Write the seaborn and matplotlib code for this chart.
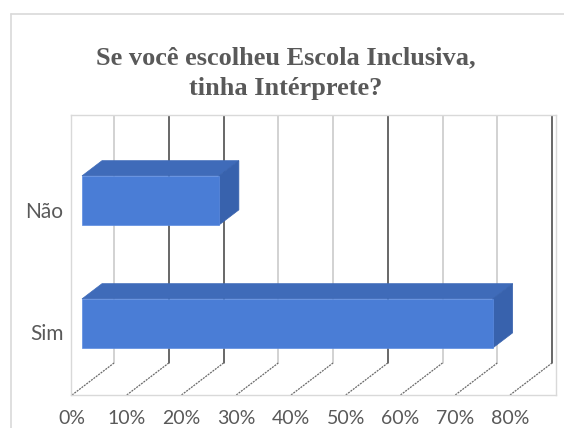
import numpy as np
import pandas as pd
import matplotlib
matplotlib.use("Agg")
import matplotlib.pyplot as plt
from matplotlib.patches import Polygon
from matplotlib.lines import Line2D
import seaborn as sns

# ---- data ----
categories = ["Não", "Sim"]
values = [25, 75]                      # percent
tick_values = [0, 10, 20, 30, 40, 50, 60, 70, 80]
tick_labels = ["0%", "10%", "20%", "30%", "40%", "50%", "60%", "70%", "80%"]
title = "Se você escolheu Escola Inclusiva,\ntinha Intérprete?"

# ---- style ----
sns.set_theme(style="white")
plt.rcParams['font.family'] = ['Lato', 'DejaVu Sans']

W, H, DPI = 564, 428, 100
fig = plt.figure(figsize=(W / DPI, H / DPI), dpi=DPI)
ax = fig.add_axes([71 / W, 1 - 395 / H, (556 - 71) / W, (395 - 115) / H])

front_c = "#4a7dd6"
top_c = "#3f6bb9"
side_c = "#3862ad"
text_c = "#595959"

df = pd.DataFrame({"cat": categories, "val": values})
sns.barplot(data=df, x="val", y="cat", orient="h", width=0.4, color=front_c,
            saturation=1, ax=ax, zorder=3, edgecolor="#5b8be0", linewidth=0.5)

# pixel-like scale of the oblique projection
PX_X = 5.475          # px per percent
PX_Y = 123.0          # px per category unit
SLOPE = 32.0 / 42.0   # dy/dx of depth direction


def proj(p, y, d):
    """shift a point by depth d (in px along x) in the oblique view"""
    return (p + d / PX_X, y - d * SLOPE / PX_Y)


ax.set_xlim((71 - 82) / PX_X, (556 - 82) / PX_X)
y_top = (115 - 200.5) / PX_Y
y_bot = (395 - 323.5) / PX_Y + 1
ax.set_ylim(y_bot, y_top)

# floor level at bar front plane
y_floor = y_bot + (-10) * SLOPE / PX_Y

dark_idx = {1, 2, 5, 8}
for i, t in enumerate(tick_values):
    # back-wall gridline
    bx, by = proj(t, y_floor, 32)
    col = "#3f3f3f" if i in dark_idx else "#c6c6c6"
    ax.plot([bx, bx], [by, y_top], color=col, lw=1.1, zorder=1)
    # floor line
    fx, fy = proj(t, y_floor, -10)
    ax.plot([fx, bx], [fy, by], color="#6a6a6a", lw=0.9, zorder=1,
            dashes=(1.6, 0.8))

# 3D faces of bars
for patch in ax.patches[:len(values)]:
    x0 = patch.get_x()
    x1 = x0 + patch.get_width()
    ya = patch.get_y()
    yb = ya + patch.get_height()
    ytop_ = min(ya, yb)
    ybot_ = max(ya, yb)
    depth = 20
    top = [(x0, ytop_), (x1, ytop_), proj(x1, ytop_, depth), proj(x0, ytop_, depth)]
    side = [(x1, ytop_), (x1, ybot_), proj(x1, ybot_, depth), proj(x1, ytop_, depth)]
    ax.add_patch(Polygon(top, closed=True, facecolor=top_c, edgecolor=top_c,
                         lw=0.5, zorder=2.9))
    ax.add_patch(Polygon(side, closed=True, facecolor=side_c, edgecolor=side_c,
                         lw=0.5, zorder=2.9))

# ticks
front_shift = -10 / PX_X
ax.set_xticks([t + front_shift for t in tick_values], tick_labels)
cat_shift = 9.0 / PX_Y
ax.set_yticks([i + cat_shift for i in range(len(categories))], categories)
ax.tick_params(axis="x", length=0, pad=10.5, labelsize=14, labelcolor=text_c)
ax.tick_params(axis="y", length=0, pad=5.5, labelsize=15, labelcolor=text_c)
ax.set_xlabel("")
ax.set_ylabel("")
ax.grid(False)
for s in ax.spines.values():
    s.set_color("#d9d9d9")
    s.set_linewidth(1.0)

# title
fig.text(286 / W, 1 - 73 / H, title, ha="center", va="center",
         fontsize=19, fontweight="bold", color=text_c,
         family=["Liberation Serif", "DejaVu Serif"], linespacing=1.4)

# chart border
fig.add_artist(Line2D([11 / W, 11 / W], [0, 1 - 14 / H], color="#d9d9d9", lw=1.2,
                      transform=fig.transFigure))
fig.add_artist(Line2D([11 / W, 1], [1 - 14 / H, 1 - 14 / H], color="#d9d9d9", lw=1.2,
                      transform=fig.transFigure))

fig.savefig("out.png", dpi=DPI)
